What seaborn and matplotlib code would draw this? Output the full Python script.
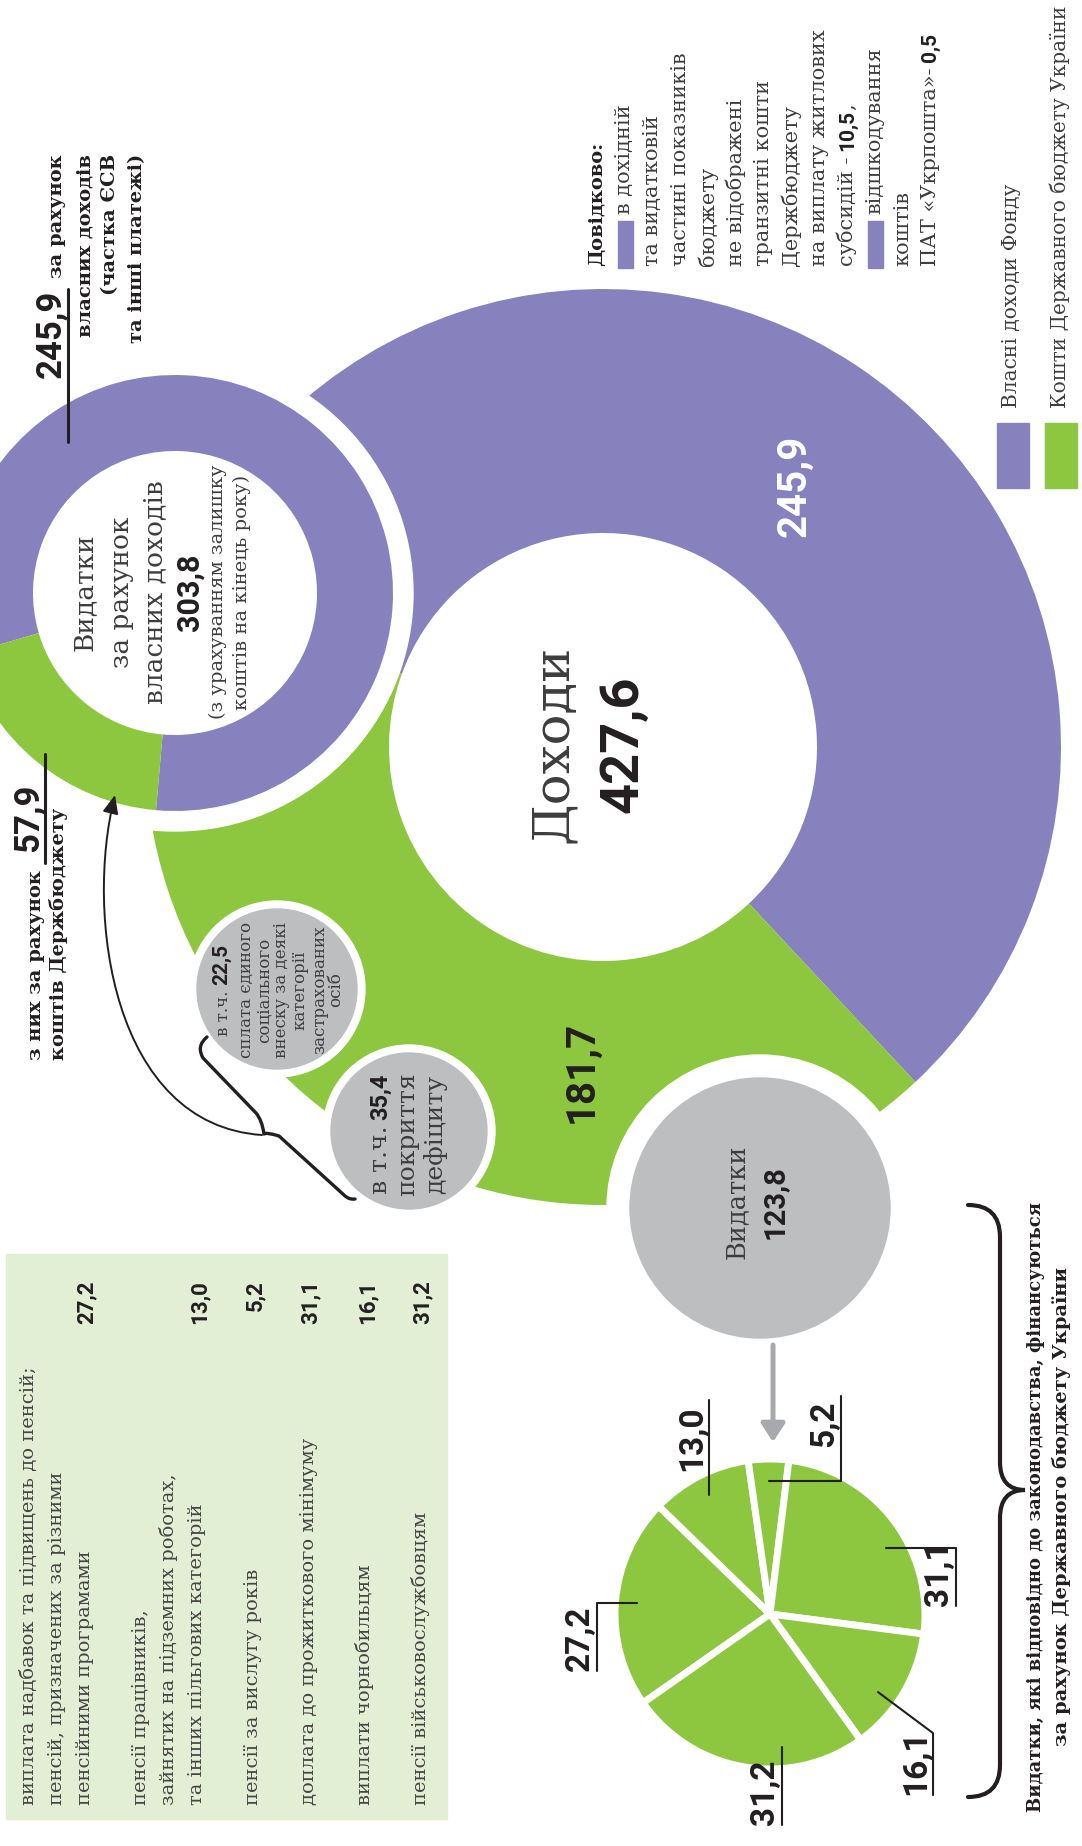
import matplotlib
matplotlib.use("Agg")
import numpy as np
import matplotlib.pyplot as plt
import seaborn as sns
from matplotlib.patches import Circle, Rectangle, FancyArrowPatch, PathPatch
from matplotlib.path import Path

sns.set_theme(style="white")
plt.rcParams["font.family"] = ["DejaVu Serif", "DejaVu Sans"]

# ── data ──────────────────────────────────────────────────────
income_labels = ["Власні доходи Фонду", "Кошти Державного бюджету України"]
income_values = [245.9, 181.7]
income_total = 427.6
own_spend_values = [245.9, 57.9]
own_spend_total = 303.8
state_spend_total = 123.8
esv_value = 22.5
deficit_value = 35.4
transit_subsidies = 10.5
transit_post = 0.5
state_items = [
    ["виплата надбавок та підвищень до пенсій;", "пенсій, призначених за різними", "пенсійними програмами"],
    ["пенсії працівників,", "зайнятих на підземних роботах,", "та інших пільгових категорій"],
    ["пенсії за вислугу років"],
    ["доплата до прожиткового мінімуму"],
    ["виплати чорнобильцям"],
    ["пенсії військовослужбовцям"],
]
state_values = [27.2, 13.0, 5.2, 31.1, 16.1, 31.2]

# ── style / layout ────────────────────────────────────────────
W, H = 1082, 1846
PURPLE, GREEN, GREY = "#8781bd", "#8dc63f", "#bcbec0"
ARROW_GREY, TABLE_BG = "#a7a9ac", "#e3efd5"
TXT, DARK = "#3d3d3d", "#231f20"
SERIF = ["DejaVu Serif", "DejaVu Sans"]
NUM = ["Roboto", "DejaVu Sans"]


def fmt(v):
    return f"{v:.1f}".replace(".", ",")


def Y(y):
    return H - y


fig = plt.figure(figsize=(W / 100, H / 100), dpi=100)
ax = fig.add_axes([0, 0, 1, 1])

# ── pies ──────────────────────────────────────────────────────
ax.pie(income_values, colors=[PURPLE, GREEN], radius=458, center=(603, Y(747)),
       startangle=-47, counterclock=True,
       wedgeprops=dict(width=244, linewidth=0, zorder=1))
ax.add_patch(Circle((175, Y(593)), 238, color="white", zorder=2))
ax.pie(own_spend_values, colors=[PURPLE, GREEN], radius=218, center=(175, Y(593)),
       startangle=-95, counterclock=True,
       wedgeprops=dict(width=76, linewidth=0, zorder=3))
state_wedges, _ = ax.pie(state_values, colors=[GREEN] * len(state_values), radius=155,
                         center=(770, Y(1614)), startangle=215, counterclock=False,
                         wedgeprops=dict(edgecolor="white", linewidth=5, zorder=3))

ax.set_xlim(0, W)
ax.set_ylim(0, H)
ax.set_aspect("auto")
ax.axis("off")

# grey bubbles
for (cx, cy), r, rw in [((277, 989), 80, 88), ((409, 1131), 78, 86), ((760, 1208), 130, 153)]:
    ax.add_patch(Circle((cx, Y(cy)), rw, color="white", zorder=4))
    ax.add_patch(Circle((cx, Y(cy)), r, color=GREY, zorder=5))

renderer = fig.canvas.get_renderer()


def rtext(xc, y, s, size, weight="normal", fam=SERIF, color=TXT, ha="left", kind="text"):
    off = (0.27 if kind == "text" else 0.36) * size * 100 / 72
    return ax.text(xc + off, Y(y), s, rotation=90, rotation_mode="anchor", ha=ha,
                   va="baseline", fontsize=size, fontweight=weight, family=fam,
                   color=color, zorder=10)


def rruns(xb, y, runs, align="left"):
    items = []
    for s, st, gap in runs:
        t = ax.text(xb, 0, s, rotation=90, rotation_mode="anchor", ha="left",
                    va="baseline", zorder=10, **st)
        items.append((t, t.get_window_extent(renderer=renderer).height, gap))
    total = sum(L + g for _, L, g in items) - items[-1][2]
    pos = {"left": Y(y), "center": Y(y) - total / 2, "right": Y(y) - total}[align]
    for t, L, g in items:
        t.set_position((xb, pos))
        pos += L + g


def reg(size):
    return dict(fontsize=size, family=SERIF, color=TXT)


def numb(size, color=DARK):
    return dict(fontsize=size, family=NUM, fontweight="bold", color=color)


# ── big donut labels ──────────────────────────────────────────
rtext(553, 744, "Доходи", 37, ha="center")
rtext(618, 744, fmt(income_total), 39, weight="bold", fam=NUM, color=DARK, ha="center", kind="num")
rtext(791, 486, fmt(income_values[0]), 29, weight="bold", fam=NUM, color="white", ha="center", kind="num")
rtext(578, 1072, fmt(income_values[1]), 29, weight="bold", fam=NUM, color=DARK, ha="center", kind="num")

# ── small donut labels ────────────────────────────────────────
for xc, s in [(85, "Видатки"), (122, "за рахунок"), (155, "власних доходів")]:
    rtext(xc, 592, s, 19, ha="center")
rtext(188, 592, fmt(own_spend_total), 22, weight="bold", fam=NUM, color=DARK, ha="center", kind="num")
rtext(218, 592, "(з урахуванням залишку", 14, ha="center")
rtext(242, 592, "коштів на кінець року)", 14, ha="center")

# top-left callout
ax.plot([68, 68], [Y(289), Y(442)], color=DARK, lw=2.2, zorder=6)
rtext(48, 290, fmt(own_spend_values[0]), 25, weight="bold", fam=NUM, color=DARK, ha="right", kind="num")
for xc, s in [(57, "за рахунок"), (85, "власних доходів"), (110, "(частка ЄСВ"), (137, "та інші платежі)")]:
    rtext(xc, 154, s, 14, weight="bold", color=DARK, ha="right")

# lower-left callout
ax.plot([45, 45], [Y(754), Y(863)], color=DARK, lw=2.2, zorder=6)
rtext(25, 852, fmt(own_spend_values[1]), 25, weight="bold", fam=NUM, color=DARK, ha="left", kind="num")
rtext(36, 1060, "з них за рахунок", 14, weight="bold", color=DARK)
rtext(59, 1060, "коштів Держбюджету", 14, weight="bold", color=DARK)

# bubbles text
rruns(223 + 0.27 * 12 * 100 / 72, 990, [("в т.ч.", reg(12), 5), (fmt(esv_value), numb(15), 0)], align="center")
for xc, s in [(246, "сплата єдиного"), (264, "соціального"), (282, "внеску за деякі"),
              (300, "категорії"), (320, "застрахованих"), (336, "осіб")]:
    rtext(xc, 990, s, 12, ha="center")
rruns(380 + 0.27 * 18 * 100 / 72, 1134, [("в т.ч.", reg(18), 6), (fmt(deficit_value), numb(17), 0)], align="center")
rtext(407, 1134, "покриття", 18, ha="center")
rtext(435, 1134, "дефіциту", 18, ha="center")
rtext(737, 1202, "Видатки", 18.5, ha="center")
rtext(772, 1202, fmt(state_spend_total), 21, weight="bold", fam=NUM, color=DARK, ha="center", kind="num")

# curly bracket on bubbles + curved arrow to the small donut
br = [(207, 1037), (196, 1046), (203, 1058), (256, 1113), (262, 1120), (264, 1134),
      (266, 1132), (279, 1136), (344, 1195), (349, 1200), (355, 1199)]
codes = [Path.MOVETO, Path.CURVE3, Path.CURVE3, Path.LINETO, Path.CURVE3, Path.CURVE3,
         Path.CURVE3, Path.CURVE3, Path.LINETO, Path.CURVE3, Path.CURVE3]
ax.add_patch(PathPatch(Path([(x, Y(y)) for x, y in br], codes), fill=False,
                       edgecolor=DARK, lw=2.4, capstyle="round", joinstyle="round", zorder=6))
arc = Path([(x, Y(y)) for x, y in [(262, 1135), (112, 1125), (85, 915), (115, 795)]],
           [Path.MOVETO, Path.CURVE4, Path.CURVE4, Path.CURVE4])
ax.add_patch(FancyArrowPatch(path=arc, arrowstyle="-|>,head_length=0.7,head_width=0.3",
                             mutation_scale=16, color=DARK, lw=1.4, zorder=6))

# grey arrow down to the state-budget pie
ax.annotate("", xy=(773, Y(1442)), xytext=(773, Y(1345)),
            arrowprops=dict(arrowstyle="-|>,head_length=0.55,head_width=0.36",
                            mutation_scale=20, color=ARROW_GREY, lw=3.6,
                            shrinkA=0, shrinkB=0), zorder=6)

# ── state-budget pie labels with leader lines ─────────────────
leaders = [  # angle offset, first move (dx, dy), vertical run dy  (image px)
    (0, (-40, 0), 68),
    (0, (0, 0), -95),
    (0, (72, 0), -85),
    (-8, (70, 0), 58),
    (-5, (55, 41), 62),
    (14.6, (0, 0), 78),
]
pc = np.array([770, Y(1614)])
for w, v, (doff, (dx1, dy1), dy2) in zip(state_wedges, state_values, leaders):
    ang = np.deg2rad((w.theta1 + w.theta2) / 2 + doff)
    a = pc + 0.86 * 155 * np.array([np.cos(ang), np.sin(ang)])
    b = a + np.array([dx1, -dy1])
    c = b + np.array([0, -dy2])
    ax.plot([a[0], b[0], c[0]], [a[1], b[1], c[1]], color=DARK, lw=1.5, zorder=6)
    yend = H - c[1]
    if dy2 > 0:
        rtext(c[0] - 20, yend, fmt(v), 24, weight="bold", fam=NUM, color=DARK, ha="left", kind="num")
    else:
        rtext(c[0] - 20, yend + 5, fmt(v), 24, weight="bold", fam=NUM, color=DARK, ha="right", kind="num")

# big right brace + caption
bp = [(968, 1205), (1000, 1205), (1000, 1237), (1000, 1462), (1000, 1490), (1025, 1490),
      (1000, 1490), (1000, 1518), (1000, 1765), (1000, 1797), (968, 1797)]
bc = [Path.MOVETO, Path.CURVE3, Path.CURVE3, Path.LINETO, Path.CURVE3, Path.CURVE3,
      Path.CURVE3, Path.CURVE3, Path.LINETO, Path.CURVE3, Path.CURVE3]
ax.add_patch(PathPatch(Path([(x, Y(y)) for x, y in bp], bc), fill=False,
                       edgecolor=DARK, lw=3, capstyle="round", zorder=6))
rtext(1036, 1507, "Видатки, які відповідно до законодавства, фінансуються", 13,
      weight="bold", color=DARK, ha="center")
rtext(1062, 1507, "за рахунок Державного бюджету України", 14,
      weight="bold", color=DARK, ha="center")

# ── table of state-budget items ───────────────────────────────
ax.add_patch(Rectangle((6, Y(1819)), 441, 565, color=TABLE_BG, zorder=0))
x = 29
for lines, v in zip(state_items, state_values):
    for s in lines:
        rtext(x, 1805, s, 14, color="#444444")
        x += 28
    rtext(x - 28, 1280, fmt(v), 16, weight="bold", fam=NUM, color=DARK, ha="right", kind="num")
    x += 28

# ── legend ────────────────────────────────────────────────────
for (x0, xc), col, lab in zip([(997, 1012), (1045, 1061)], [PURPLE, GREEN], income_labels):
    ax.add_patch(Rectangle((x0, Y(488)), 32, 65, color=col, zorder=5))
    rtext(xc, 408, lab, 14.5)

# ── notes block ───────────────────────────────────────────────
rtext(597, 266, "Довідково:", 14, weight="bold", color=DARK)
notes = ["в дохідній", "та видатковій", "частині показників", "бюджету", "не відображені",
         "транзитні кошти", "Держбюджету", "на виплату житлових", None, "відшкодування",
         "коштів", None]
NS = 15
for i, s in enumerate(notes):
    xc = 597 + 27.8 * (i + 1)
    xb = xc + 0.27 * NS * 100 / 72
    if i in (0, 9):
        ax.add_patch(Rectangle((xc - 7, Y(268)), 15, 47, color=PURPLE, zorder=5))
        rtext(xc, 214, s, NS)
    elif i == 8:
        rruns(xb, 266, [("субсидій -", reg(NS), 6), (fmt(transit_subsidies), numb(NS), 0),
                        (",", reg(NS), 0)])
    elif i == 11:
        rruns(xb, 266, [("ПАТ «Укрпошта»-", reg(NS), 6), (fmt(transit_post), numb(NS), 0)])
    else:
        rtext(xc, 266, s, NS)

fig.savefig("out.png", dpi=100)
